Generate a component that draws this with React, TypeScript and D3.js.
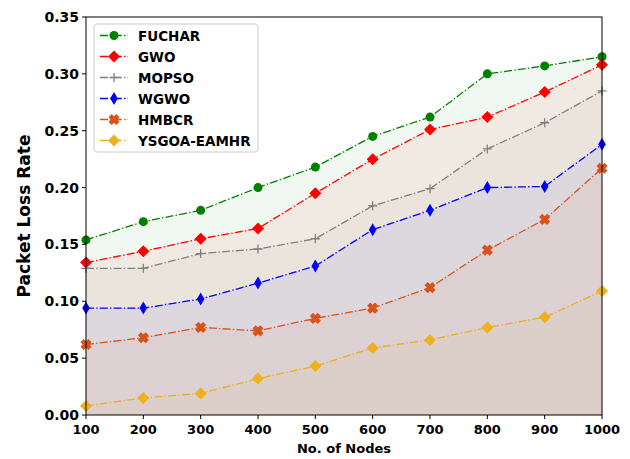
import React from 'react';
import * as d3 from 'd3';

// x values (number of nodes)
const nodes = [100, 200, 300, 400, 500, 600, 700, 800, 900, 1000];

// packet loss rate per method
const fuchar = [0.154, 0.170, 0.180, 0.200, 0.218, 0.245, 0.262, 0.300, 0.307, 0.315];
const gwo = [0.134, 0.144, 0.155, 0.164, 0.195, 0.225, 0.251, 0.262, 0.284, 0.308];
const mopso = [0.129, 0.129, 0.142, 0.146, 0.155, 0.184, 0.199, 0.234, 0.257, 0.285];
const wgwo = [0.094, 0.094, 0.102, 0.116, 0.131, 0.163, 0.180, 0.200, 0.201, 0.238];
const hmbcr = [0.062, 0.068, 0.077, 0.074, 0.085, 0.094, 0.112, 0.145, 0.172, 0.217];
const ysgoa = [0.008, 0.015, 0.019, 0.032, 0.043, 0.059, 0.066, 0.077, 0.086, 0.109];

const yTicks = [0, 0.05, 0.1, 0.15, 0.2, 0.25, 0.3, 0.35];

const series = [
  { name: 'FUCHAR', values: fuchar, color: '#008000', marker: 'circle' },
  { name: 'GWO', values: gwo, color: '#ff0000', marker: 'diamond' },
  { name: 'MOPSO', values: mopso, color: '#808080', marker: 'plus' },
  { name: 'WGWO', values: wgwo, color: '#0000ff', marker: 'thin' },
  { name: 'HMBCR', values: hmbcr, color: '#d95319', marker: 'x' },
  { name: 'YSGOA-EAMHR', values: ysgoa, color: '#edb120', marker: 'diamond' },
];

const W = 630;
const H = 459;
const m = { left: 86, right: 602, top: 17, bottom: 415 };
const font = '"DejaVu Sans", sans-serif';

function Marker({ type, cx, cy, color }: { type: string; cx: number; cy: number; color: string }) {
  if (type === 'circle') return <circle cx={cx} cy={cy} r={4.5} fill={color} />;
  if (type === 'diamond')
    return <path d={`M${cx},${cy - 6}L${cx + 6},${cy}L${cx},${cy + 6}L${cx - 6},${cy}Z`} fill={color} />;
  if (type === 'thin')
    return <path d={`M${cx},${cy - 6.5}L${cx + 3.8},${cy}L${cx},${cy + 6.5}L${cx - 3.8},${cy}Z`} fill={color} />;
  if (type === 'plus')
    return (
      <path d={`M${cx - 4.5},${cy}H${cx + 4.5}M${cx},${cy - 4.5}V${cy + 4.5}`} stroke={color} strokeWidth={1.3} />
    );
  // filled X
  const s = d3.symbol(d3.symbolCross, 55)() as string;
  return (
    <path d={s} transform={`translate(${cx},${cy}) rotate(45)`} fill={color} stroke={color} strokeWidth={1.2} />
  );
}

export default function App() {
  const x = d3.scaleLinear().domain([100, 1000]).range([m.left, m.right]);
  const y = d3.scaleLinear().domain([0, 0.35]).range([m.bottom, m.top]);

  const line = d3
    .line<number>()
    .x((_, i) => x(nodes[i]))
    .y((d) => y(d));
  const area = d3
    .area<number>()
    .x((_, i) => x(nodes[i]))
    .y0(y(0))
    .y1((d) => y(d));

  const legX = 94;
  const legY = 24;

  return (
    <svg width={W} height={H} style={{ position: 'absolute', left: 0, top: 0, background: '#fff' }}>
      {/* fills */}
      {series.map((s) => (
        <path key={s.name + 'a'} d={area(s.values) as string} fill={s.color} fillOpacity={0.055} />
      ))}
      {/* lines */}
      {series.map((s) => (
        <g key={s.name}>
          <path
            d={line(s.values) as string}
            fill="none"
            stroke={s.color}
            strokeWidth={1.3}
            strokeDasharray="8,2.2,1.4,2.2"
          />
          {s.values.map((v, i) => (
            <Marker key={i} type={s.marker} cx={x(nodes[i])} cy={y(v)} color={s.color} />
          ))}
        </g>
      ))}

      {/* frame */}
      <rect
        x={m.left}
        y={m.top}
        width={m.right - m.left}
        height={m.bottom - m.top}
        fill="none"
        stroke="#000"
        strokeWidth={1}
      />

      {/* x axis */}
      {nodes.map((n) => (
        <g key={n}>
          <line x1={x(n)} x2={x(n)} y1={m.bottom} y2={m.bottom + 4} stroke="#000" />
          <text
            x={x(n)}
            y={m.bottom + 19}
            textAnchor="middle"
            fontFamily={font}
            fontWeight="bold"
            fontSize={13}
          >
            {n}
          </text>
        </g>
      ))}
      <text x={(m.left + m.right) / 2} y={453} textAnchor="middle" fontFamily={font} fontWeight="bold" fontSize={13}>
        No. of Nodes
      </text>

      {/* y axis */}
      {yTicks.map((t) => (
        <g key={t}>
          <line x1={m.left - 4} x2={m.left} y1={y(t)} y2={y(t)} stroke="#000" />
          <text
            x={m.left - 7}
            y={y(t) + 5}
            textAnchor="end"
            fontFamily={font}
            fontWeight="bold"
            fontSize={14}
          >
            {t.toFixed(2)}
          </text>
        </g>
      ))}
      <text
        transform={`translate(30,${(m.top + m.bottom) / 2}) rotate(-90)`}
        textAnchor="middle"
        fontFamily={font}
        fontWeight="bold"
        fontSize={17}
      >
        Packet Loss Rate
      </text>

      {/* legend */}
      <rect x={legX} y={legY} width={164} height={128} rx={3} fill="#fff" fillOpacity={0.85} stroke="#ccc" />
      {series.map((s, i) => {
        const cy = legY + 11.5 + i * 21;
        return (
          <g key={s.name + 'l'}>
            <line
              x1={legX + 6}
              x2={legX + 34}
              y1={cy}
              y2={cy}
              stroke={s.color}
              strokeWidth={1.3}
              strokeDasharray="8,2.2,1.4,2.2"
            />
            <Marker type={s.marker} cx={legX + 20} cy={cy} color={s.color} />
            <text x={legX + 44} y={cy + 5} fontFamily={font} fontWeight="bold" fontSize={13.5}>
              {s.name}
            </text>
          </g>
        );
      })}
    </svg>
  );
}
